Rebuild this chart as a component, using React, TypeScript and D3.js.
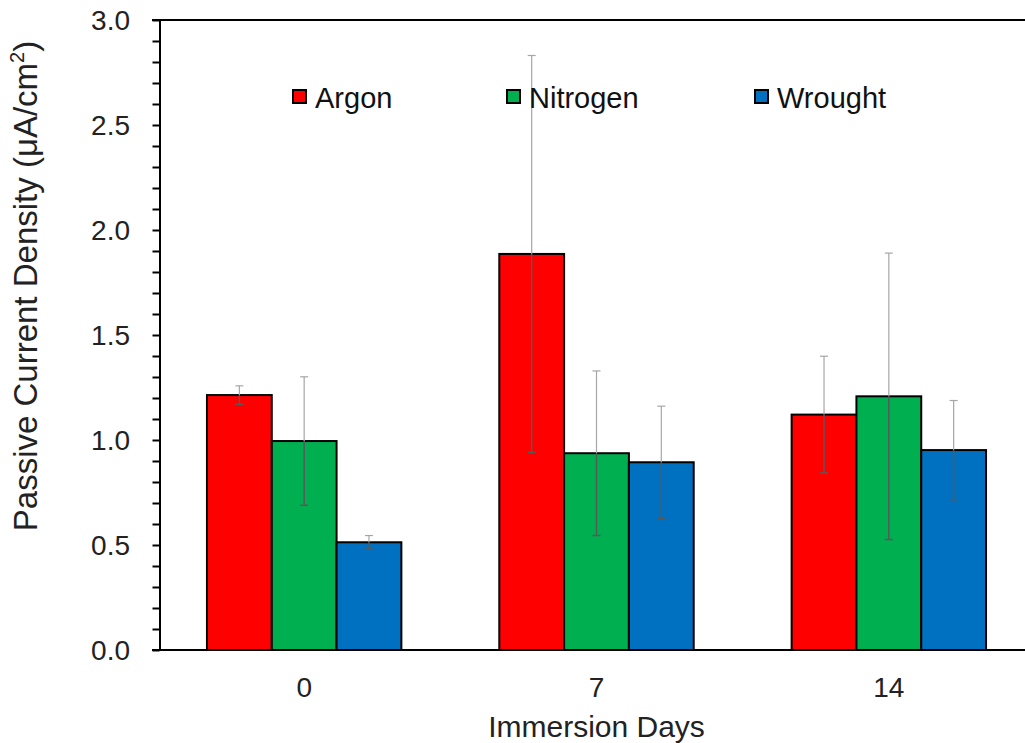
import { useRef, useEffect } from "react";
import * as d3 from "d3";

const DAYS = ["0", "7", "14"];
const ARGON = [1.214, 1.886, 1.121];
const ARGON_ERR = [0.044, 0.945, 0.278];
const NITROGEN = [0.995, 0.937, 1.208];
const NITROGEN_ERR = [0.306, 0.392, 0.682];
const WROUGHT = [0.513, 0.894, 0.952];
const WROUGHT_ERR = [0.032, 0.267, 0.236];
const Y_TICKS = [0, 0.5, 1.0, 1.5, 2.0, 2.5, 3.0];

const SERIES = [
  { key: "argon", label: "Argon", color: "#ff0000", values: ARGON, err: ARGON_ERR },
  { key: "nitrogen", label: "Nitrogen", color: "#00b050", values: NITROGEN, err: NITROGEN_ERR },
  { key: "wrought", label: "Wrought", color: "#0070c0", values: WROUGHT, err: WROUGHT_ERR },
];

const FONT = "'Liberation Sans', Arial, sans-serif";
const W = 1025;
const H = 743;

export default function App() {
  const svgRef = useRef<SVGSVGElement | null>(null);

  useEffect(() => {
    const svg = d3.select(svgRef.current);
    svg.selectAll("*").remove();

    const left = 159.5;
    const top = 20;
    const bottom = 650;

    const x = d3.scaleBand<string>().domain(DAYS).range([158, 1035]).paddingInner(0.335).paddingOuter(0.1675);
    const xs = d3.scaleBand<string>().domain(SERIES.map((s) => s.key)).range([0, x.bandwidth()]);
    const y = d3.scaleLinear().domain([0, 3]).range([bottom, top]);

    // Bars
    SERIES.forEach((s) => {
      svg
        .append("g")
        .selectAll("rect")
        .data(s.values)
        .join("rect")
        .attr("x", (_, i) => (x(DAYS[i]) ?? 0) + (xs(s.key) ?? 0))
        .attr("y", (d) => y(d))
        .attr("width", xs.bandwidth())
        .attr("height", (d) => y(0) - y(d))
        .attr("fill", s.color)
        .attr("stroke", "#000")
        .attr("stroke-width", 2);
    });

    // Error bars: the part over the bar shows darker than the part above it
    SERIES.forEach((s) => {
      s.values.forEach((v, i) => {
        const cx = (x(DAYS[i]) ?? 0) + (xs(s.key) ?? 0) + xs.bandwidth() / 2;
        const hi = y(v + s.err[i]);
        const lo = y(v - s.err[i]);
        const g = svg.append("g");
        g.append("line").attr("x1", cx).attr("x2", cx).attr("y1", hi).attr("y2", y(v))
          .attr("stroke", "#a6a6a6").attr("stroke-width", 1.2);
        g.append("line").attr("x1", cx - 4).attr("x2", cx + 4).attr("y1", hi).attr("y2", hi)
          .attr("stroke", "#a6a6a6").attr("stroke-width", 1.2);
        g.append("line").attr("x1", cx).attr("x2", cx).attr("y1", y(v)).attr("y2", lo)
          .attr("stroke", "#595959").attr("stroke-width", 1.5);
        g.append("line").attr("x1", cx - 4).attr("x2", cx + 4).attr("y1", lo).attr("y2", lo)
          .attr("stroke", "#595959").attr("stroke-width", 1.5);
      });
    });

    // Frame lines
    svg.append("line").attr("x1", 152).attr("x2", W).attr("y1", top).attr("y2", top)
      .attr("stroke", "#000").attr("stroke-width", 2);
    svg.append("line").attr("x1", 152).attr("x2", W).attr("y1", bottom).attr("y2", bottom)
      .attr("stroke", "#000").attr("stroke-width", 2);

    // Y axis with minor ticks
    svg
      .append("g")
      .attr("transform", `translate(${left},0)`)
      .call(d3.axisLeft(y).tickValues(d3.range(0, 3.001, 0.1)).tickSize(7).tickSizeOuter(0).tickFormat(() => ""))
      .call((g) => {
        g.select(".domain").attr("stroke", "#000").attr("stroke-width", 2);
        g.selectAll("line").attr("stroke", "#000").attr("stroke-width", 2);
      });

    svg
      .append("g")
      .selectAll("text")
      .data(Y_TICKS)
      .join("text")
      .attr("x", 130)
      .attr("y", (d) => y(d))
      .attr("dy", "0.36em")
      .attr("text-anchor", "end")
      .attr("font-family", FONT)
      .attr("font-size", 28)
      .attr("fill", "#222")
      .text((d) => d3.format(".1f")(d));

    // X tick labels
    svg
      .append("g")
      .selectAll("text")
      .data(DAYS)
      .join("text")
      .attr("x", (d) => (x(d) ?? 0) + x.bandwidth() / 2)
      .attr("y", 697)
      .attr("text-anchor", "middle")
      .attr("font-family", FONT)
      .attr("font-size", 28)
      .attr("fill", "#222")
      .text((d) => d);

    // Axis titles
    svg.append("text")
      .attr("x", (x("7") ?? 0) + x.bandwidth() / 2)
      .attr("y", 737)
      .attr("text-anchor", "middle")
      .attr("font-family", FONT)
      .attr("font-size", 30)
      .attr("fill", "#222")
      .text("Immersion Days");

    const yt = svg.append("text")
      .attr("transform", "translate(37,286) rotate(-90)")
      .attr("text-anchor", "middle")
      .attr("font-family", FONT)
      .attr("font-size", 33)
      .attr("fill", "#222");
    yt.append("tspan").text("Passive Current Density (μA/cm");
    yt.append("tspan").attr("font-size", 20).attr("dy", -13).text("2");
    yt.append("tspan").attr("dy", 13).text(")");

    // Legend
    const LEG_X = [293, 507, 755];
    SERIES.forEach((s, i) => {
      svg.append("rect").attr("x", LEG_X[i]).attr("y", 90).attr("width", 13).attr("height", 13)
        .attr("fill", s.color).attr("stroke", "#000").attr("stroke-width", 2);
      svg.append("text").attr("x", LEG_X[i] + 22).attr("y", 108)
        .attr("font-family", FONT).attr("font-size", 29).attr("fill", "#111").text(s.label);
    });
  }, []);

  return (
    <svg
      ref={svgRef}
      width={W}
      height={H}
      style={{ position: "absolute", left: 0, top: 0, background: "#fff", display: "block" }}
    />
  );
}
